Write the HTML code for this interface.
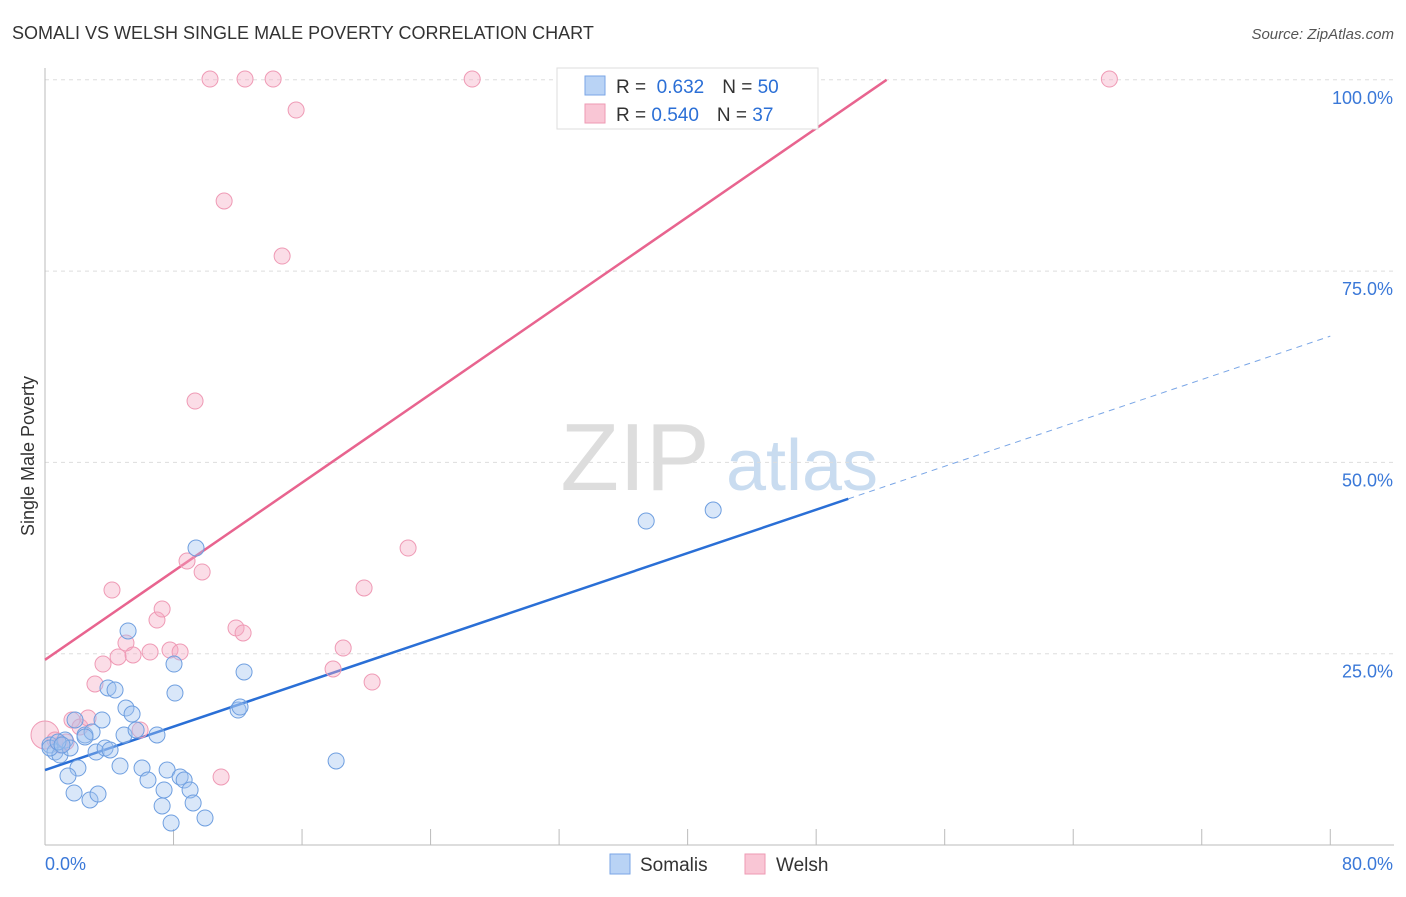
<!DOCTYPE html>
<html><head><meta charset="utf-8">
<style>
body{margin:0;background:#fff;font-family:"Liberation Sans",sans-serif;}
svg text{font-family:"Liberation Sans",sans-serif;}
</style></head>
<body>
<svg id="chart" width="1406" height="892">
<text x="12" y="39" font-size="18" fill="#333">SOMALI VS WELSH SINGLE MALE POVERTY CORRELATION CHART</text>
<text x="1394" y="39" font-size="15" fill="#555" font-style="italic" text-anchor="end">Source: ZipAtlas.com</text>
<text transform="translate(34,456) rotate(-90)" font-size="18" fill="#333" text-anchor="middle">Single Male Poverty</text>
<g>
<text x="635" y="490" font-size="96" fill="#ddd" font-family="Liberation Serif" text-anchor="middle">ZIP</text>
<text x="802" y="490" font-size="72" fill="#c9dcf0" text-anchor="middle">atlas</text>
</g>
<g id="grid"></g><g id="axes"></g><g id="lines"></g><g id="pts"></g>
<g>
<rect x="557" y="68" width="261" height="61" fill="#fff" stroke="#ddd"/>
<rect x="585" y="76" width="20" height="19" fill="#b9d3f5" stroke="#7aa6e6"/>
<rect x="585" y="104" width="20" height="19" fill="#f9c6d5" stroke="#ee9ab3"/>
<text x="616" y="93" font-size="19" fill="#333">R = <tspan fill="#2b6fd6">&#160;0.632</tspan><tspan dx="18">N = </tspan><tspan fill="#2b6fd6"> 50</tspan></text>
<text x="616" y="121" font-size="19" fill="#333">R = <tspan fill="#2b6fd6">0.540</tspan><tspan dx="18">N = </tspan><tspan fill="#2b6fd6"> 37</tspan></text>
</g>
<g>
<rect x="610" y="854" width="20" height="20" fill="#b9d3f5" stroke="#7aa6e6"/>
<text x="640" y="871" font-size="19" fill="#333">Somalis</text>
<rect x="745" y="854" width="20" height="20" fill="#f9c6d5" stroke="#ee9ab3"/>
<text x="776" y="871" font-size="19" fill="#333">Welsh</text>
</g>
</svg>
<script>
const yTicks=[25,50,75,100];
const yTickLabels=["25.0%","50.0%","75.0%","100.0%"];
const xEndLabels=["0.0%","80.0%"];
const somaliX=[0.31,0.62,0.93,1.25,1.56,1.87,2.05,1.43,1.81,2.49,2.80,2.93,3.18,3.30,3.55,3.74,3.92,4.05,4.36,4.67,4.92,5.04,5.17,5.42,5.67,6.04,6.41,6.97,7.29,7.41,7.60,7.85,8.03,8.09,8.41,8.66,9.03,9.22,9.40,9.96,12.02,12.14,12.39,18.12,37.42,41.59,0.31,0.81,1.06,2.49];
const somaliY=[13.07,12.15,11.76,13.72,12.68,16.34,10.06,9.02,6.80,14.38,5.88,14.77,12.15,6.66,16.34,12.68,20.52,12.42,20.26,10.32,14.38,17.90,27.97,17.12,15.03,10.06,8.49,14.38,5.10,7.19,9.80,2.88,23.65,19.86,8.89,8.49,7.19,5.49,38.81,3.53,17.64,18.03,22.61,10.98,42.34,43.78,12.68,13.46,13.07,14.12];
const welshX=[0,0.62,0.93,1.31,1.68,2.18,2.68,3.11,3.61,4.17,4.55,5.04,5.48,5.92,6.54,6.97,7.29,7.78,8.41,8.84,9.78,10.27,10.96,11.15,11.89,12.33,12.45,14.20,14.76,15.63,9.34,17.93,18.56,19.86,20.36,22.60,26.59,66.25];
const welshY=[14.38,13.72,13.07,13.46,16.34,15.42,16.60,21.04,23.65,33.32,24.57,26.40,24.83,15.03,25.22,29.40,30.84,25.48,25.22,37.11,35.68,100.1,8.89,84.16,28.36,27.71,100.1,100.1,76.97,96.05,58.02,23.00,25.74,33.59,21.30,38.81,100.1,100.1];
const somaliFit=[9.8,66.5];   // y at x=0 and x=80
const welshFit=[24.2,1.447];  // intercept, slope
const somaliSolidEnd=50;

const X=v=>45+v*16.066, Y=v=>845-v*7.652;
const NS="http://www.w3.org/2000/svg";
function mk(tag,attrs,parent){const e=document.createElementNS(NS,tag);for(const k in attrs)e.setAttribute(k,attrs[k]);parent.appendChild(e);return e;}
const grid=document.getElementById('grid'),axes=document.getElementById('axes'),lines=document.getElementById('lines'),pts=document.getElementById('pts');
yTicks.forEach((t,i)=>{
 const l=mk('line',{x1:45,x2:1394,y1:Y(t),y2:Y(t),stroke:'#ddd','stroke-dasharray':'4,4'},grid);
 
 
 const tx=mk('text',{x:1393,y:Y(t)+24,'font-size':18,fill:'#3a78d8','text-anchor':'end'},axes);
 tx.textContent=yTickLabels[i];
 
 
});
const ya=mk('line',{x1:45,x2:45,y1:68,y2:845,stroke:'#bbb'},axes);


const xa=mk('line',{x1:45,x2:1394,y1:845,y2:845,stroke:'#bbb'},axes);


for(let v=0;v<=80;v+=8){const t=mk('line',{x1:X(v),x2:X(v),y1:829,y2:845,stroke:'#bbb'},axes);
 
 }
const xl0=mk('text',{x:45,y:870,'font-size':18,fill:'#3a78d8'},axes);xl0.textContent=xEndLabels[0];


const xl1=mk('text',{x:1393,y:870,'font-size':18,fill:'#3a78d8','text-anchor':'end'},axes);xl1.textContent=xEndLabels[1];


const sy=x=>somaliFit[0]+(somaliFit[1]-somaliFit[0])*x/80;
const sl=mk('line',{x1:X(0),y1:Y(sy(0)),x2:X(somaliSolidEnd),y2:Y(sy(somaliSolidEnd)),stroke:'#2a6fd6','stroke-width':2.5},lines);


const sd=mk('line',{x1:X(somaliSolidEnd),y1:Y(sy(somaliSolidEnd)),x2:X(80),y2:Y(sy(80)),stroke:'#7aa6e6','stroke-width':1,'stroke-dasharray':'6,5'},lines);


const wx=(100-welshFit[0])/welshFit[1];
const wl=mk('line',{x1:X(0),y1:Y(welshFit[0]),x2:X(wx),y2:Y(100),stroke:'#e8648f','stroke-width':2.5},lines);


welshX.forEach((x,i)=>{const c=mk('circle',{cx:X(x),cy:Y(welshY[i]),r:i===0?14:8,fill:'rgba(246,170,195,0.4)',stroke:'#ef9ab5','stroke-width':1},pts);
 
 });
somaliX.forEach((x,i)=>{const c=mk('circle',{cx:X(x),cy:Y(somaliY[i]),r:8,fill:'rgba(160,195,240,0.4)',stroke:'#6f9fe0','stroke-width':1},pts);
 
 });
</script>
</body></html>
